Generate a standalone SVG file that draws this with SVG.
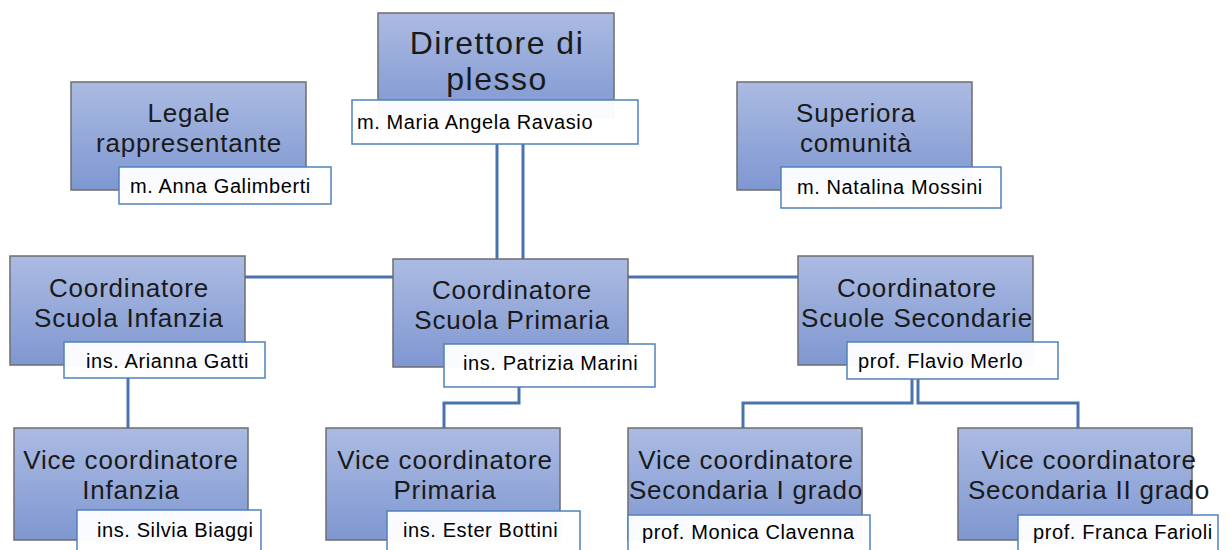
<svg xmlns="http://www.w3.org/2000/svg" width="1232" height="550" viewBox="0 0 1232 550">
<defs>
<linearGradient id="g" x1="0" y1="0" x2="0" y2="1">
<stop offset="0" stop-color="#abbbe2"/>
<stop offset="1" stop-color="#7f97d1"/>
</linearGradient>
<style>
.box{fill:url(#g);stroke:#6e6e6e;stroke-width:1.5}
.nb{fill:#ffffff;fill-opacity:0.96;stroke:#4f81bd;stroke-width:1.5}
.t{font-family:"Liberation Sans",Arial,sans-serif;font-size:26px;letter-spacing:0.8px;fill:#1a1a1a;text-anchor:middle}
.tb{font-family:"Liberation Sans",Arial,sans-serif;font-size:32px;letter-spacing:1.5px;fill:#1a1a1a;text-anchor:middle}
.n{font-family:"Liberation Sans",Arial,sans-serif;font-size:20px;letter-spacing:0.6px;fill:#000000}
.c{fill:none;stroke:#4a72b0;stroke-width:3}
</style>
</defs>
<rect width="1232" height="550" fill="#ffffff"/>
<g id="connectors">
<path class="c" d="M497 144V259M523 144V259"/>
<path class="c" d="M245 277H393M628 277H798"/>
<path class="c" d="M128 378V428"/>
<path class="c" d="M519 387V403H444V428"/>
<path class="c" d="M912 379V403H743V428M918 379V403H1078V428"/>
</g>
<g id="direttore">
<rect class="box" x="378" y="13" width="236" height="105"/>
<text class="tb" x="497" y="54">Direttore di</text>
<text class="tb" x="497" y="90">plesso</text>
<rect class="nb" x="352" y="100" width="286" height="44"/>
<text class="n" x="357" y="129">m. Maria Angela Ravasio</text>
</g>
<g id="legale">
<rect class="box" x="71" y="82" width="235" height="108"/>
<text class="t" x="189" y="122">Legale</text>
<text class="t" x="189" y="152">rappresentante</text>
<rect class="nb" x="119" y="167" width="212" height="37"/>
<text class="n" x="130" y="193">m. Anna Galimberti</text>
</g>
<g id="superiora">
<rect class="box" x="737" y="82" width="235" height="108"/>
<text class="t" x="856" y="122">Superiora</text>
<text class="t" x="856" y="152">comunità</text>
<rect class="nb" x="781" y="167" width="220" height="41"/>
<text class="n" x="797" y="194">m. Natalina Mossini</text>
</g>
<g id="coord-infanzia">
<rect class="box" x="10" y="256" width="235" height="109"/>
<text class="t" x="129" y="297">Coordinatore</text>
<text class="t" x="129" y="327">Scuola Infanzia</text>
<rect class="nb" x="64" y="342" width="201" height="36"/>
<text class="n" x="86" y="368">ins. Arianna Gatti</text>
</g>
<g id="coord-primaria">
<rect class="box" x="393" y="259" width="235" height="108"/>
<text class="t" x="512" y="299">Coordinatore</text>
<text class="t" x="512" y="329">Scuola Primaria</text>
<rect class="nb" x="444" y="344" width="211" height="43"/>
<text class="n" x="463" y="370">ins. Patrizia Marini</text>
</g>
<g id="coord-secondarie">
<rect class="box" x="798" y="256" width="235" height="109"/>
<text class="t" x="917" y="297">Coordinatore</text>
<text class="t" x="917" y="327">Scuole Secondarie</text>
<rect class="nb" x="847" y="342" width="211" height="37"/>
<text class="n" x="858" y="368">prof. Flavio Merlo</text>
</g>
<g id="vice-infanzia">
<rect class="box" x="14" y="428" width="234" height="112"/>
<text class="t" x="131" y="469">Vice coordinatore</text>
<text class="t" x="131" y="499">Infanzia</text>
<rect class="nb" x="77" y="510" width="184" height="42"/>
<text class="n" x="97" y="537">ins. Silvia Biaggi</text>
</g>
<g id="vice-primaria">
<rect class="box" x="326" y="428" width="234" height="112"/>
<text class="t" x="445" y="469">Vice coordinatore</text>
<text class="t" x="445" y="499">Primaria</text>
<rect class="nb" x="387" y="511" width="193" height="41"/>
<text class="n" x="403" y="537">ins. Ester Bottini</text>
</g>
<g id="vice-sec1">
<rect class="box" x="628" y="428" width="234" height="112"/>
<text class="t" x="746" y="469">Vice coordinatore</text>
<text class="t" x="746" y="499">Secondaria I grado</text>
<rect class="nb" x="628" y="515" width="242" height="37"/>
<text class="n" x="642" y="539">prof. Monica Clavenna</text>
</g>
<g id="vice-sec2">
<rect class="box" x="958" y="428" width="234" height="112"/>
<text class="t" x="1089" y="469">Vice coordinatore</text>
<text class="t" x="1089" y="499">Secondaria II grado</text>
<rect class="nb" x="1018" y="515" width="200" height="37"/>
<text class="n" x="1033" y="539">prof. Franca Farioli</text>
</g>
</svg>
